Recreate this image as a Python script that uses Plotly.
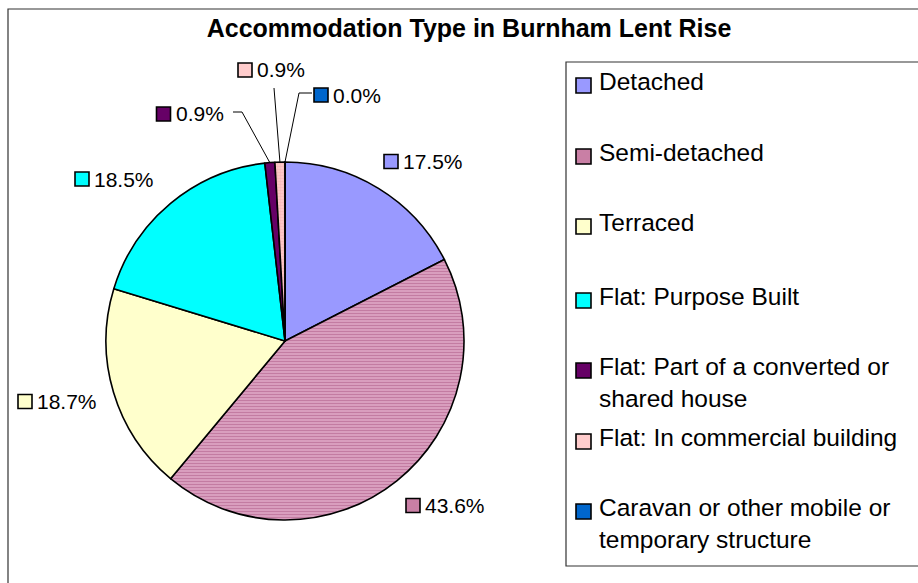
import math
import plotly.graph_objects as go

# ---------------- data ----------------
categories = ["Detached", "Semi-detached", "Terraced", "Flat: Purpose Built",
              "Flat: Part of a converted or shared house",
              "Flat: In commercial building",
              "Caravan or other mobile or temporary structure"]
legend_text = ["Detached", "Semi-detached", "Terraced", "Flat: Purpose Built",
               "Flat: Part of a converted or<br>shared house",
               "Flat: In commercial building",
               "Caravan or other mobile or<br>temporary structure"]
values = [17.5, 43.6, 18.7, 18.5, 0.9, 0.9, 0.0]

# ---------------- styles ----------------
colors = ["#9999FF", "#E2AECA", "#FFFFCC", "#00FFFF", "#660066", "#FFCCCC", "#0066CC"]
key_colors = ["#9999FF", "#C97FA5", "#FFFFCC", "#00FFFF", "#660066", "#FFCCCC", "#0066CC"]
pat_shapes = ["", "-", "", "", "", ".", ""]
pat_fg = ["#000000", "#A3497A", "#000000", "#000000", "#000000", "#F0A8A8", "#000000"]

W, H = 918, 583
FONT = "Arial, Liberation Sans, sans-serif"

def px(x):
    return x / W

def py(y):
    return 1 - y / H

# pie geometry (pixels)
CX, CY, R = 285, 341, 179

# label key-square centres (pixels) for each slice
label_pos = [(391, 161.5), (413, 505.5), (25, 401.5), (82, 179),
             (163.5, 114), (245, 70), (321, 95)]
# leader line start points (pixels) for small slices: points before the edge point
leaders = {4: [(233, 112), (242, 112)], 5: [(274, 88)], 6: [(312, 93), (299, 93)]}

# legend rows: first-line centre y (pixels)
legend_rows = [82, 153, 223, 297, 367, 438, 508]

fig = go.Figure()
fig.add_trace(go.Pie(
    labels=categories, values=values, sort=False, direction="clockwise", rotation=0,
    textinfo="none", showlegend=False,
    domain=dict(x=[px(CX - R), px(CX + R)], y=[py(CY + R), py(CY - R)]),
    marker=dict(colors=colors, line=dict(color="black", width=1.6),
                pattern=dict(shape=pat_shapes, fgcolor=pat_fg, size=3, solidity=0.55,
                             fillmode="overlay")),
))

shapes = []
annotations = []

# outer chart border
shapes.append(dict(type="rect", xref="paper", yref="paper", x0=px(8), x1=px(940),
                   y0=py(600), y1=py(9), line=dict(color="#333333", width=1.2)))
# legend box
shapes.append(dict(type="rect", xref="paper", yref="paper", x0=px(566), x1=px(940),
                   y0=py(566), y1=py(62), line=dict(color="#333333", width=1.2)))

total = sum(values)
cum = 0.0
for i, v in enumerate(values):
    mid = (cum + v / 2) / total * 2 * math.pi
    cum += v
    ex, ey = CX + R * math.sin(mid), CY - R * math.cos(mid)
    sx, sy = label_pos[i]
    shapes.append(dict(type="rect", xref="paper", yref="paper",
                       x0=px(sx - 7), x1=px(sx + 7), y0=py(sy + 7), y1=py(sy - 7),
                       fillcolor=key_colors[i], line=dict(color="black", width=1.6)))
    annotations.append(dict(text=f"{v:.1f}%", x=px(sx + 10), y=py(sy), xref="paper",
                            yref="paper", xanchor="left", yanchor="middle", showarrow=False,
                            font=dict(family=FONT, size=21, color="black")))
    if i in leaders:
        pts = leaders[i] + [(ex, ey)]
        path = "M " + " L ".join(f"{px(a)},{py(b)}" for a, b in pts)
        shapes.append(dict(type="path", xref="paper", yref="paper", path=path,
                           line=dict(color="black", width=1)))

# custom legend
for i, txt in enumerate(legend_text):
    ry = legend_rows[i]
    shapes.append(dict(type="rect", xref="paper", yref="paper",
                       x0=px(576), x1=px(591), y0=py(ry + 11), y1=py(ry - 4),
                       fillcolor=key_colors[i], line=dict(color="black", width=1.6)))
    annotations.append(dict(text=txt, x=px(597), y=py(ry - 16), xref="paper", yref="paper",
                            xanchor="left", yanchor="top", align="left", showarrow=False,
                            font=dict(family=FONT, size=24.5, color="black")))

fig.update_layout(
    width=W, height=H, margin=dict(l=0, r=0, t=0, b=0),
    paper_bgcolor="white", plot_bgcolor="white",
    title=dict(text="<b>Accommodation Type in Burnham Lent Rise</b>", x=px(469), y=py(28),
               xanchor="center", yanchor="middle",
               font=dict(family=FONT, size=25, color="black")),
    shapes=shapes, annotations=annotations, showlegend=False,
)

fig.write_html("out.html")
